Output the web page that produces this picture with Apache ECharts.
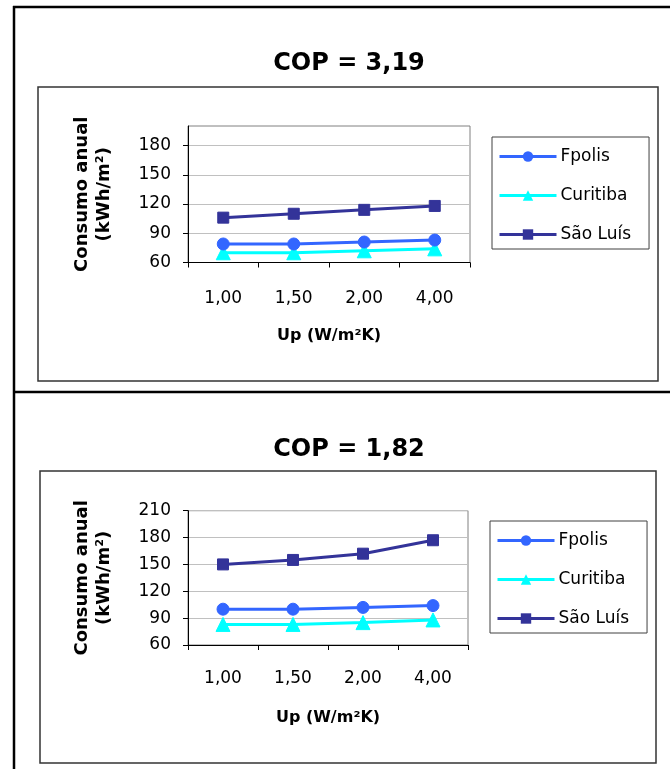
<!DOCTYPE html>
<html><head><meta charset="utf-8">
<script src="https://cdn.jsdelivr.net/npm/echarts@6/dist/echarts.min.js"></script>
<style>html,body{margin:0;padding:0;background:#fff}#c{width:670px;height:769px}</style>
</head><body><div id="c"></div>
<script>
const categories = ['1,00', '1,50', '2,00', '4,00'];
const seriesNames = ['Fpolis', 'Curitiba', 'São Luís'];
const titleTop = 'COP = 3,19';
const titleBottom = 'COP = 1,82';
const fpolisTop = [79, 79, 81, 83];
const curitibaTop = [70, 70, 72, 74];
const saoLuisTop = [106, 110, 114, 118];
const fpolisBottom = [100, 100, 102, 104];
const curitibaBottom = [83, 83, 85, 88];
const saoLuisBottom = [150, 155, 162, 177];
const yTopTicks = [60, 90, 120, 150, 180];
const yBottomTicks = [60, 90, 120, 150, 180, 210];
const yTop = {min: 60, max: 200, interval: 30};
const yBottom = {min: 60, max: 210, interval: 30};

const FONT = 'DejaVu Sans';
const colors = ['#3366FF', '#00FFFF', '#333399'];
const symbols = ['circle', 'triangle', 'rect'];
const symSizes = [12, 14, 11];

function mkX(gi, nameGap, margin) {
  return {
    type: 'category', gridIndex: gi, data: categories, boundaryGap: true,
    axisLine: {show: true, lineStyle: {color: '#000', width: 1}},
    axisTick: {show: true, length: 5, alignWithLabel: false, lineStyle: {color: '#000'}},
    axisLabel: {margin: margin, fontFamily: FONT, fontSize: 17, color: '#000'},
    splitLine: {show: false},
    name: 'Up (W/m²K)', nameLocation: 'middle', nameGap: nameGap,
    nameTextStyle: {fontFamily: FONT, fontSize: 16, fontWeight: 'bold', color: '#000'}
  };
}
function mkY(gi, r, ticks) {
  return {
    type: 'value', gridIndex: gi, min: r.min, max: r.max, interval: r.interval,
    axisLine: {show: true, lineStyle: {color: '#000', width: 1}},
    axisTick: {show: true, length: 5, customValues: ticks, lineStyle: {color: '#000'}},
    axisLabel: {margin: 17, customValues: ticks, fontFamily: FONT, fontSize: 17, color: '#000'},
    splitLine: {show: true, lineStyle: {color: '#c0c0c0', width: 1}},
    name: 'Consumo anual\n(kWh/m²)', nameLocation: 'middle', nameRotate: 90, nameGap: 73,
    nameTextStyle: {fontFamily: FONT, fontSize: 18, fontWeight: 'bold', color: '#000', lineHeight: 22, align: 'center'}
  };
}
function mkSeries(gi, arrs) {
  return arrs.map((d, i) => ({
    name: seriesNames[i], type: 'line', xAxisIndex: gi, yAxisIndex: gi, data: d,
    symbol: symbols[i], symbolSize: symSizes[i], showAllSymbol: true,
    lineStyle: {color: colors[i], width: 3},
    itemStyle: {color: colors[i], borderColor: colors[i]},
    emphasis: {disabled: true}, animation: false, z: 3 + (2 - i)
  }));
}
function mkLegend(left, top) {
  return {
    orient: 'vertical', left: left, top: top, data: seriesNames,
    itemWidth: 57, itemHeight: 13, itemGap: 22,
    padding: [11, 18, 6, 6],
    borderColor: '#404040', borderWidth: 1, backgroundColor: '#fff',
    lineStyle: {width: 3},
    textStyle: {fontFamily: FONT, fontSize: 17, color: '#000', padding: [0, 0, 0, -1]},
    selectedMode: false
  };
}

const chart = echarts.init(document.getElementById('c'), null, {renderer: 'canvas'});
chart.setOption({
  animation: false,
  backgroundColor: '#fff',
  title: [
    {text: titleTop, left: 344, top: 47, textAlign: 'center',
     textStyle: {fontFamily: FONT, fontSize: 24, fontWeight: 'bold', color: '#000'}},
    {text: titleBottom, left: 344, top: 433, textAlign: 'center',
     textStyle: {fontFamily: FONT, fontSize: 24, fontWeight: 'bold', color: '#000'}}
  ],
  grid: [
    {left: 188, top: 126, width: 282, height: 136.5, show: true, borderColor: '#808080', borderWidth: 1, backgroundColor: 'transparent'},
    {left: 188, top: 510.7, width: 280, height: 134.3, show: true, borderColor: '#808080', borderWidth: 1, backgroundColor: 'transparent'}
  ],
  xAxis: [mkX(0, 65, 28), mkX(1, 65, 25)],
  yAxis: [mkY(0, yTop, yTopTicks), mkY(1, yBottom, yBottomTicks)],
  legend: [mkLegend(492, 137), mkLegend(490, 521)],
  graphic: [
    {type: 'line', shape: {x1: 13, y1: 7, x2: 670, y2: 7}, style: {stroke: '#000', lineWidth: 2.5}, silent: true},
    {type: 'line', shape: {x1: 14, y1: 6, x2: 14, y2: 769}, style: {stroke: '#000', lineWidth: 2.5}, silent: true},
    {type: 'line', shape: {x1: 13, y1: 392, x2: 670, y2: 392}, style: {stroke: '#000', lineWidth: 2.5}, silent: true},
    {type: 'rect', shape: {x: 38, y: 87, width: 620, height: 294}, style: {stroke: '#333', fill: null, lineWidth: 1.5}, silent: true, z: -1},
    {type: 'rect', shape: {x: 40, y: 471, width: 616, height: 292}, style: {stroke: '#333', fill: null, lineWidth: 1.5}, silent: true, z: -1}
  ],
  series: mkSeries(0, [fpolisTop, curitibaTop, saoLuisTop]).concat(mkSeries(1, [fpolisBottom, curitibaBottom, saoLuisBottom]))
});
</script>
</body></html>
